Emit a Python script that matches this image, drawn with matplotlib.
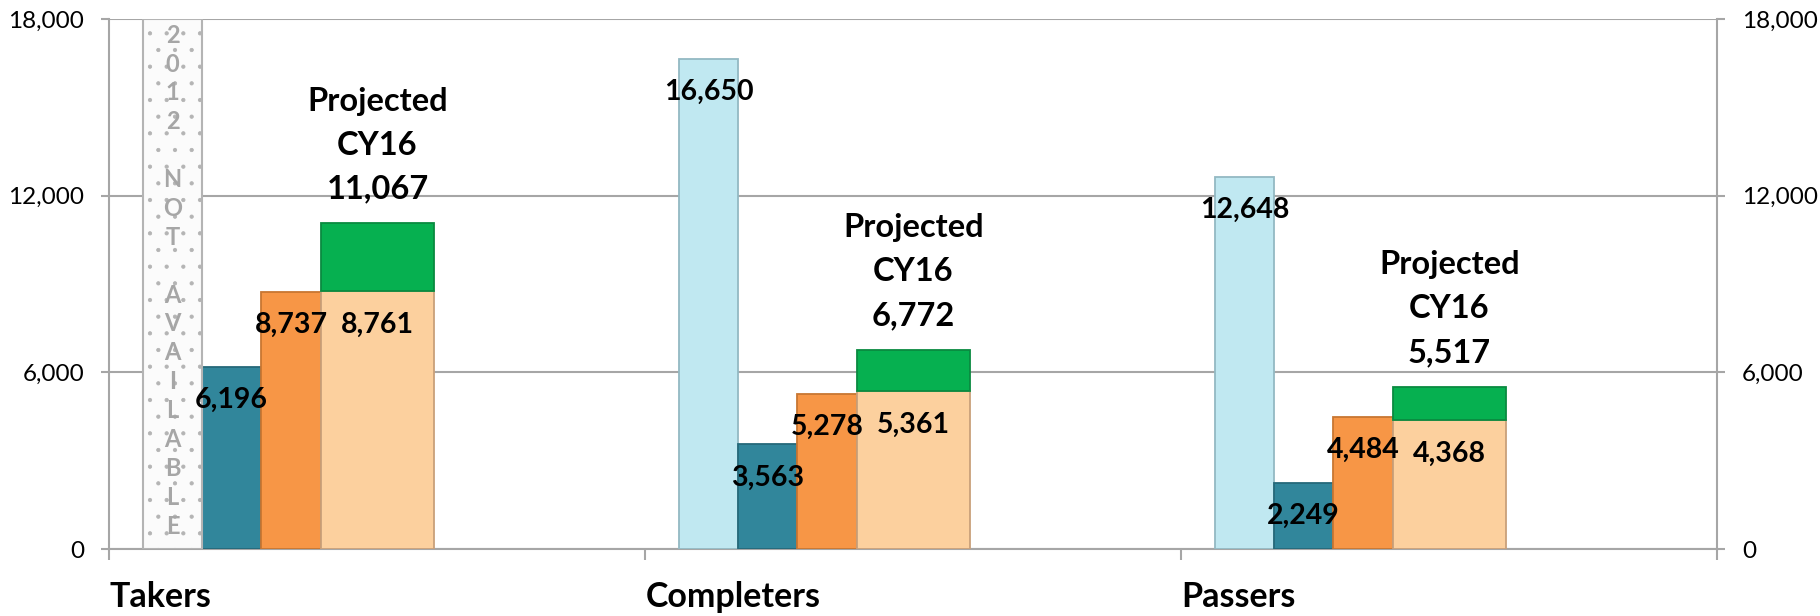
import numpy as np
import matplotlib.pyplot as plt

plt.rcParams['font.family'] = ['Lato', 'DejaVu Sans']
plt.rcParams['hatch.color'] = '#e2e2e2'
plt.rcParams['hatch.linewidth'] = 0.6

# data
categories = ['Takers', 'Completers', 'Passers']
cy12 = [np.nan, 16650, 12648]      # 2012 not available for takers
cy13 = [6196, 3563, 2249]
cy14 = [8737, 5278, 4484]
cy15 = [8761, 5361, 4368]
cy16_projected = [11067, 6772, 5517]
yticks = [0, 6000, 12000, 18000]

# layout of the bar slots inside each category (fraction of category width)
slot_left = [0.064, 0.173, 0.283, 0.396]
slot_width = [0.109, 0.110, 0.113, 0.210]

c_lblue = '#c0e8f1'
c_teal = '#31869b'
c_orange = '#f79646'
c_peach = '#fcd09e'
c_green = '#06b050'
grid_c = '#a6a6a6'

fig = plt.figure(figsize=(18.2, 6.16), dpi=100)
ax = fig.add_axes([109 / 1820, 67 / 616, 1608 / 1820, 530 / 616])

x = np.arange(len(categories))

def bars(i, vals, color, edge, bottom=None):
    return ax.bar(x + slot_left[i], vals, width=slot_width[i], bottom=bottom,
                  align='edge', color=color, edgecolor=edge, linewidth=1.3, zorder=3)

b12 = bars(0, cy12, c_lblue, '#93b9c3')
b13 = bars(1, cy13, c_teal, '#25697a')
b14 = bars(2, cy14, c_orange, '#c87632')
b15 = bars(3, cy15, c_peach, '#c9a07a')
extra = np.array(cy16_projected) - np.array(cy15)
b16 = bars(3, extra, c_green, '#0a8a40', bottom=cy15)

# "2012 NOT AVAILABLE" placeholder column for takers
ax.bar(x[0] + slot_left[0], yticks[-1], width=slot_width[0], align='edge',
       color='#fbfbfb', edgecolor='#b4b4b4', hatch='.', linewidth=1.5, zorder=3)
letters = list('2012 NOT AVAILABLE')
ypos = np.linspace(17450, 780, len(letters))
for ch, yy in zip(letters, ypos):
    if ch != ' ':
        ax.text(x[0] + slot_left[0] + slot_width[0] / 2, yy, ch, ha='center', va='center',
                fontsize=17, fontweight='bold', color='#a6a6a6', zorder=4)

# value labels just inside the top of each bar
for group in [b12, b13, b14, b15]:
    for rect in group:
        h = rect.get_height()
        if np.isnan(h):
            continue
        ax.annotate(f'{h:,.0f}', (rect.get_x() + rect.get_width() / 2, rect.get_y() + h),
                    xytext=(0, -24), textcoords='offset points', ha='center', va='center',
                    fontsize=20.5, fontweight='bold', zorder=5)

for rect, tot in zip(b16, cy16_projected):
    ax.annotate(f'Projected\nCY16\n{tot:,}', (rect.get_x() + rect.get_width() / 2, tot),
                xytext=(0, 14), textcoords='offset points', ha='center', va='bottom',
                fontsize=23.5, fontweight='bold', linespacing=1.62, zorder=5)

ax.set_xlim(0, len(categories))
ax.set_ylim(0, 18000)
ax.set_yticks(yticks)
ax.set_yticklabels([f'{v:,}' for v in yticks])
ax.set_xticks(np.arange(len(categories) + 1))
ax.set_xticklabels([])
for i, name in enumerate(categories):
    ax.text(x[i] + 0.001, -0.109, name, transform=ax.get_xaxis_transform(),
            ha='left', va='baseline', fontsize=24.5, fontweight='bold')

ax.yaxis.grid(True, color=grid_c, linewidth=1.5, zorder=0)
ax.set_axisbelow(True)
ax.tick_params(axis='y', which='both', left=True, right=True, labelleft=True, labelright=True,
               length=6, width=1.5, color=grid_c, pad=12, labelsize=17.5, labelcolor='black')
ax.tick_params(axis='x', length=8, width=1.5, color=grid_c)
ax.spines['top'].set_visible(False)
for s in ['left', 'right', 'bottom']:
    ax.spines[s].set_color(grid_c)
    ax.spines[s].set_linewidth(1.5)

fig.savefig('out.png', dpi=100)
